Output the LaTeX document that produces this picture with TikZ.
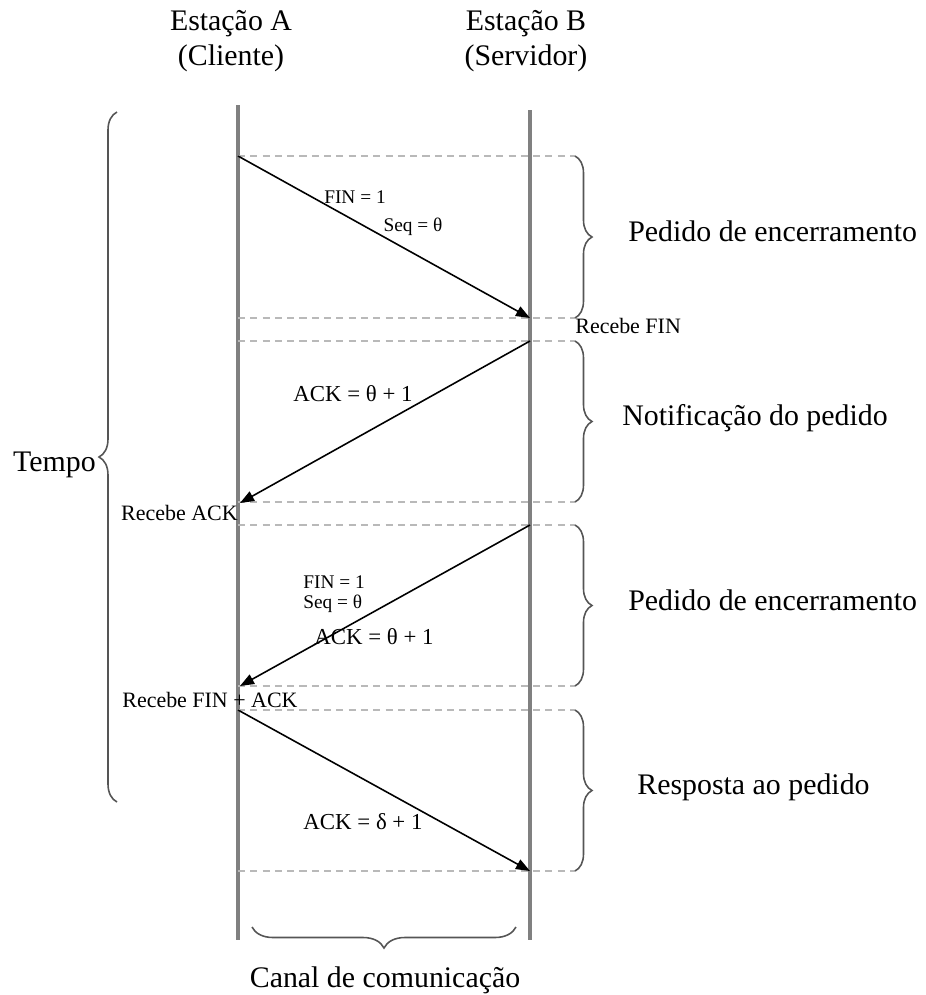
\documentclass[tikz,border=0pt]{standalone}
\usepackage{fontspec}
\setmainfont{Liberation Serif}
\usetikzlibrary{arrows.meta,positioning,decorations.pathreplacing}
\definecolor{cinzalinha}{RGB}{128,128,128}
\definecolor{cinzatraco}{RGB}{185,185,185}
\definecolor{cinzachave}{RGB}{85,85,85}

\newcommand{\fonteGrande}{\fontsize{17}{20}\selectfont}
\newcommand{\fonteMedia}{\fontsize{13}{15}\selectfont}
\newcommand{\fontePequena}{\fontsize{12.5}{14}\selectfont}
\newcommand{\fonteMinima}{\fontsize{11}{12}\selectfont}

\begin{document}
\begin{tikzpicture}[x=0.02cm, y=-0.02cm,
    vida/.style={cinzalinha, line width=2pt},
    limite/.style={cinzatraco, line width=1.2pt, dash pattern=on 4pt off 3pt},
    msg/.style={-{Triangle[length=8pt, width=6pt]}, line width=0.9pt},
    chave/.style={cinzachave, line width=0.9pt, decorate, decoration={brace, amplitude=#1}},
    rotulo/.style={font=\fontePequena, inner sep=0pt},
    fase/.style={font=\fonteGrande, anchor=west, inner sep=0pt}]

    \useasboundingbox (0,0) rectangle (926,995);

    % Estacoes
    \node[font=\fonteGrande, align=center] (estA) at (231,41) {Estação A\\(Cliente)};
    \node[font=\fonteGrande, align=center] (estB) at (526,41) {Estação B\\(Servidor)};

    % Linhas de vida
    \coordinate (aTopo) at (238,105);
    \coordinate (aBase) at (238,940);
    \coordinate (bTopo) at (530,110);
    \coordinate (bBase) at (530,940);
    \draw[vida] (aTopo) -- (aBase);
    \draw[vida] (bTopo) -- (bBase);

    % Limites das fases
    \foreach \y in {156,318,341,502,525,686,710,871}
        \draw[limite] (238,\y) -- (575,\y);

    % Chaves das fases
    \draw[chave=0.34cm] (575,156) -- (575,318);
    \draw[chave=0.34cm] (575,341) -- (575,502);
    \draw[chave=0.34cm] (575,525) -- (575,686);
    \draw[chave=0.34cm] (575,710) -- (575,871);

    \node[fase] (fase1) at (628,231) {Pedido de encerramento};
    \node[fase] (fase2) at (622,418) {Notificação do pedido};
    \node[fase] (fase3) at (628,600) {Pedido de encerramento};
    \node[fase] (fase4) at (637,787) {Resposta ao pedido};

    % Mensagens
    \coordinate (m1a) at (238,156);
    \coordinate (m1b) at (530,318);
    \coordinate (m2b) at (530,341);
    \coordinate (m2a) at (240,503);
    \coordinate (m3b) at (530,525);
    \coordinate (m3a) at (240,686);
    \coordinate (m4a) at (238,710);
    \coordinate (m4b) at (530,871);

    \draw[msg] (m1a) -- (m1b);
    \draw[msg] (m2b) -- (m2a);
    \draw[msg] (m3b) -- (m3a);
    \draw[msg] (m4a) -- (m4b);

    % Rotulos
    \node[rotulo, font=\fonteMinima] (fin1) at (355,197) {FIN = 1};
    \node[rotulo, font=\fonteMinima] (seq1) at (413,227) {Seq = θ};
    \node[rotulo, anchor=west] (recFin) at (575,326) {Recebe FIN};
    \node[rotulo, font=\fonteMedia] (ack1) at (353,394) {ACK = θ + 1};
    \node[rotulo, anchor=east] (recAck) at (238,513) {Recebe ACK};
    \node[rotulo, font=\fonteMinima, anchor=west] (fin2) at (303,582) {FIN = 1};
    \node[rotulo, font=\fonteMinima, anchor=west] (seq2) at (303,604) {Seq = θ};
    \node[rotulo, font=\fonteMedia] (ack2) at (374,637) {ACK = θ + 1};
    \node[rotulo, anchor=west] (recFinAck) at (122,700) {Recebe FIN + ACK};
    \node[rotulo, font=\fonteMedia] (ack3) at (363,822) {ACK = δ + 1};

    % Tempo
    \draw[chave=0.36cm] (117,802) -- (117,112);
    \node[font=\fonteGrande, anchor=east, inner sep=0pt] (tempo) at (96,465) {Tempo};

    % Canal
    \draw[chave=0.42cm] (516,927) -- (252,927);
    \node[font=\fonteGrande] (canal) at (385,980) {Canal de comunicação};

\end{tikzpicture}
\end{document}
